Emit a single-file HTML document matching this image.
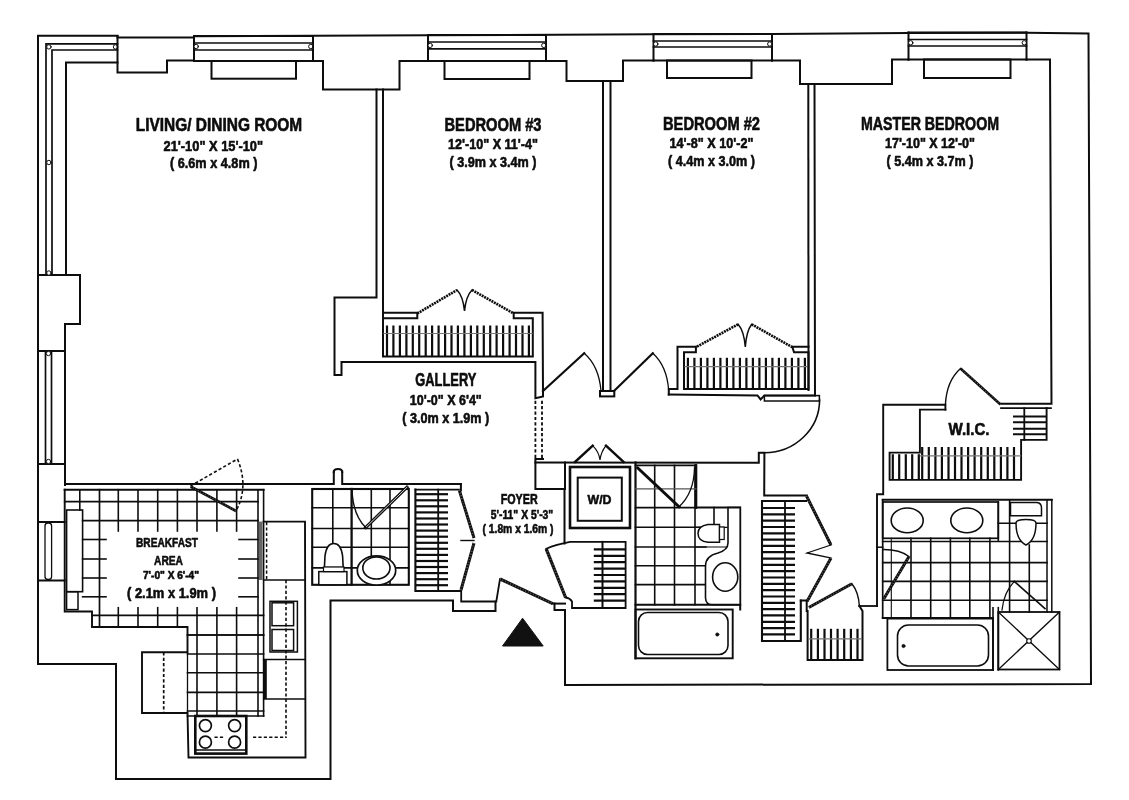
<!DOCTYPE html>
<html lang="en">
<head>
<meta charset="utf-8">
<title>Floor plan</title>
<style>
html,body{margin:0;padding:0;background:#fff;}
body{width:1129px;height:800px;overflow:hidden;font-family:"Liberation Sans",sans-serif;}
svg{display:block;filter:blur(0.4px);}
svg *{vector-effect:none;}
.g polyline,.g line,.g rect,.g path,.g ellipse,.g circle{fill:none;stroke:#0d0d0d;stroke-linecap:square;stroke-linejoin:miter;}
text{font-family:"Liberation Sans",sans-serif;fill:#0d0d0d;stroke:#0d0d0d;stroke-width:0.6px;stroke-linejoin:round;text-anchor:middle;}
</style>
</head>
<body>
<svg width="1129" height="800" viewBox="0 0 1129 800">
<rect x="0" y="0" width="1129" height="800" fill="#ffffff"/>
<g class="g">
<polyline points="38.0,664.0 38.0,35.7 117.5,35.7 117.5,37.5 194.0,37.5 194.0,36.2 313.0,35.8 428.0,35.3 653.5,34.2 772.0,34.0 908.5,33.0 1026.5,32.8 1088.5,33.5 1091.0,684.0 565.0,685.0 565.0,610.0" stroke-width="2.0" />
<polyline points="38.0,664.0 116.0,664.0 116.0,779.0 330.5,779.0 330.5,600.5 453.0,600.5 453.0,611.0 495.5,611.0 495.5,601.7" stroke-width="2.0" />
<polyline points="46.0,275.0 46.0,43.8 117.5,43.8" stroke-width="1.7" />
<polyline points="52.0,275.0 52.0,50.0 117.5,50.0" stroke-width="1.7" />
<polyline points="66.0,275.0 66.0,62.5 117.5,62.5" stroke-width="2.0" />
<circle cx="48.9" cy="46.9" r="2.2" stroke-width="1" style="fill:#fff"/>
<circle cx="115.5" cy="46.9" r="2.2" stroke-width="1" style="fill:#fff"/>
<circle cx="48.9" cy="162.5" r="2.2" stroke-width="1" style="fill:#fff"/>
<polyline points="117.5,36.0 117.5,72.5 167.0,72.5 167.0,60.5 194.0,60.5" stroke-width="2.0" />
<line x1="194.0" y1="36.0" x2="194.0" y2="61.0" stroke-width="2.0" />
<line x1="313.0" y1="36.0" x2="313.0" y2="61.0" stroke-width="2.0" />
<line x1="194.0" y1="36.0" x2="313.0" y2="36.0" stroke-width="2.0" />
<line x1="194.0" y1="43.0" x2="313.0" y2="43.0" stroke-width="1.7" />
<line x1="194.0" y1="50.0" x2="313.0" y2="50.0" stroke-width="1.7" />
<line x1="194.0" y1="61.0" x2="313.0" y2="61.0" stroke-width="2.0" />
<circle cx="196.2" cy="46.5" r="2.2" stroke-width="1" style="fill:#fff"/>
<circle cx="310.8" cy="46.5" r="2.2" stroke-width="1" style="fill:#fff"/>
<rect x="211.5" y="61.0" width="84.5" height="17.7" stroke-width="2.0" />
<polyline points="313.0,61.0 323.0,61.0 323.0,89.5 399.5,89.5 399.5,61.0 428.0,61.0" stroke-width="2.0" />
<line x1="428.0" y1="35.0" x2="428.0" y2="61.0" stroke-width="2.0" />
<line x1="546.0" y1="35.0" x2="546.0" y2="61.0" stroke-width="2.0" />
<line x1="428.0" y1="35.0" x2="546.0" y2="35.0" stroke-width="2.0" />
<line x1="428.0" y1="42.0" x2="546.0" y2="42.0" stroke-width="1.7" />
<line x1="428.0" y1="48.8" x2="546.0" y2="48.8" stroke-width="1.7" />
<line x1="428.0" y1="61.0" x2="546.0" y2="61.0" stroke-width="2.0" />
<circle cx="430.2" cy="45.4" r="2.2" stroke-width="1" style="fill:#fff"/>
<circle cx="543.8" cy="45.4" r="2.2" stroke-width="1" style="fill:#fff"/>
<rect x="444.5" y="61.0" width="85.0" height="18.0" stroke-width="2.0" />
<polyline points="546.0,61.0 566.5,61.0 566.5,81.0 623.0,81.0 623.0,60.5 653.5,60.5" stroke-width="2.0" />
<line x1="653.5" y1="34.0" x2="653.5" y2="60.5" stroke-width="2.0" />
<line x1="772.0" y1="34.0" x2="772.0" y2="60.5" stroke-width="2.0" />
<line x1="653.5" y1="34.0" x2="772.0" y2="34.0" stroke-width="2.0" />
<line x1="653.5" y1="41.0" x2="772.0" y2="41.0" stroke-width="1.7" />
<line x1="653.5" y1="47.0" x2="772.0" y2="47.0" stroke-width="1.7" />
<line x1="653.5" y1="60.5" x2="772.0" y2="60.5" stroke-width="2.0" />
<circle cx="655.7" cy="44.0" r="2.2" stroke-width="1" style="fill:#fff"/>
<circle cx="769.8" cy="44.0" r="2.2" stroke-width="1" style="fill:#fff"/>
<rect x="667.0" y="60.5" width="84.5" height="17.5" stroke-width="2.0" />
<polyline points="772.0,60.5 800.0,60.5 800.0,84.0 892.0,84.0 892.0,59.5 908.5,59.5" stroke-width="2.0" />
<line x1="908.5" y1="32.5" x2="908.5" y2="59.5" stroke-width="2.0" />
<line x1="1026.5" y1="32.5" x2="1026.5" y2="59.5" stroke-width="2.0" />
<line x1="908.5" y1="32.5" x2="1026.5" y2="32.5" stroke-width="2.0" />
<line x1="908.5" y1="39.5" x2="1026.5" y2="39.5" stroke-width="1.7" />
<line x1="908.5" y1="46.0" x2="1026.5" y2="46.0" stroke-width="1.7" />
<line x1="908.5" y1="59.5" x2="1026.5" y2="59.5" stroke-width="2.0" />
<circle cx="910.7" cy="42.8" r="2.2" stroke-width="1" style="fill:#fff"/>
<circle cx="1024.3" cy="42.8" r="2.2" stroke-width="1" style="fill:#fff"/>
<rect x="924.0" y="59.5" width="86.5" height="18.5" stroke-width="2.0" />
<polyline points="1026.5,59.5 1050.0,59.5 1051.5,403.8 1000.0,403.8" stroke-width="2.0" />
<polyline points="38.0,275.0 80.0,275.0 80.0,324.0 65.0,324.0 65.0,351.0 38.0,351.0" stroke-width="2.0" />
<line x1="45.5" y1="351.0" x2="45.5" y2="464.0" stroke-width="1.7" />
<line x1="51.5" y1="351.0" x2="51.5" y2="464.0" stroke-width="1.7" />
<polyline points="38.0,464.0 65.0,464.0" stroke-width="2.0" />
<line x1="65.0" y1="351.0" x2="65.0" y2="485.0" stroke-width="2.0" />
<circle cx="48.5" cy="353.5" r="2.2" stroke-width="1" style="fill:#fff"/>
<circle cx="48.5" cy="461.5" r="2.2" stroke-width="1" style="fill:#fff"/>
<circle cx="48.9" cy="273" r="2.2" stroke-width="1" style="fill:#fff"/>
<line x1="38.0" y1="522.0" x2="64.7" y2="522.0" stroke-width="2.0" />
<line x1="38.0" y1="580.5" x2="64.7" y2="580.5" stroke-width="2.0" />
<rect x="45" y="523" width="6.6" height="56.5" rx="3" stroke-width="1.3"/>
<polyline points="376.5,89.5 376.5,297.5 334.5,297.5 334.5,375.0 341.5,375.0 341.5,362.0 535.4,362.0 535.4,398.3 543.0,396.5 543.0,393.0" stroke-width="2.0" />
<polyline points="383.0,89.5 383.0,318.3" stroke-width="2.0" />
<polyline points="383.0,312.7 417.3,312.7 417.3,318.3 383.0,318.3" stroke-width="2.0" />
<polyline points="383.0,318.3 383.0,356.5 532.8,356.5 532.8,318.3 513.7,318.3 513.7,312.7 542.6,312.7 543.0,393.0" stroke-width="2.0" />
<line x1="417.3" y1="313.5" x2="457.0" y2="290.0" stroke-width="2.6" stroke-dasharray="2 0.8" style="stroke-linecap:butt"/>
<path d="M457,290 Q463,296 464.5,311 Q466,296 472,290" stroke-width="1.5" />
<line x1="472.0" y1="290.0" x2="513.7" y2="313.5" stroke-width="2.6" stroke-dasharray="2 0.8" style="stroke-linecap:butt"/>
<line x1="387.0" y1="325.5" x2="387.0" y2="356.5" stroke-width="2.2" style="stroke-linecap:butt"/>
<line x1="393.4" y1="325.5" x2="393.4" y2="356.5" stroke-width="2.2" style="stroke-linecap:butt"/>
<line x1="399.9" y1="325.5" x2="399.9" y2="356.5" stroke-width="2.2" style="stroke-linecap:butt"/>
<line x1="406.4" y1="325.5" x2="406.4" y2="356.5" stroke-width="2.2" style="stroke-linecap:butt"/>
<line x1="412.8" y1="325.5" x2="412.8" y2="356.5" stroke-width="2.2" style="stroke-linecap:butt"/>
<line x1="419.2" y1="325.5" x2="419.2" y2="356.5" stroke-width="2.2" style="stroke-linecap:butt"/>
<line x1="425.7" y1="325.5" x2="425.7" y2="356.5" stroke-width="2.2" style="stroke-linecap:butt"/>
<line x1="432.1" y1="325.5" x2="432.1" y2="356.5" stroke-width="2.2" style="stroke-linecap:butt"/>
<line x1="438.6" y1="325.5" x2="438.6" y2="356.5" stroke-width="2.2" style="stroke-linecap:butt"/>
<line x1="445.1" y1="325.5" x2="445.1" y2="356.5" stroke-width="2.2" style="stroke-linecap:butt"/>
<line x1="451.5" y1="325.5" x2="451.5" y2="356.5" stroke-width="2.2" style="stroke-linecap:butt"/>
<line x1="457.9" y1="325.5" x2="457.9" y2="356.5" stroke-width="2.2" style="stroke-linecap:butt"/>
<line x1="464.4" y1="325.5" x2="464.4" y2="356.5" stroke-width="2.2" style="stroke-linecap:butt"/>
<line x1="470.9" y1="325.5" x2="470.9" y2="356.5" stroke-width="2.2" style="stroke-linecap:butt"/>
<line x1="477.3" y1="325.5" x2="477.3" y2="356.5" stroke-width="2.2" style="stroke-linecap:butt"/>
<line x1="483.8" y1="325.5" x2="483.8" y2="356.5" stroke-width="2.2" style="stroke-linecap:butt"/>
<line x1="490.2" y1="325.5" x2="490.2" y2="356.5" stroke-width="2.2" style="stroke-linecap:butt"/>
<line x1="496.6" y1="325.5" x2="496.6" y2="356.5" stroke-width="2.2" style="stroke-linecap:butt"/>
<line x1="503.1" y1="325.5" x2="503.1" y2="356.5" stroke-width="2.2" style="stroke-linecap:butt"/>
<line x1="509.6" y1="325.5" x2="509.6" y2="356.5" stroke-width="2.2" style="stroke-linecap:butt"/>
<line x1="516.0" y1="325.5" x2="516.0" y2="356.5" stroke-width="2.2" style="stroke-linecap:butt"/>
<line x1="522.5" y1="325.5" x2="522.5" y2="356.5" stroke-width="2.2" style="stroke-linecap:butt"/>
<line x1="528.9" y1="325.5" x2="528.9" y2="356.5" stroke-width="2.2" style="stroke-linecap:butt"/>
<line x1="384.0" y1="333.5" x2="532.0" y2="333.5" stroke-width="1.2" style="stroke:#777"/>
<line x1="603.0" y1="81.0" x2="603.0" y2="391.0" stroke-width="2.0" />
<line x1="610.5" y1="81.0" x2="610.5" y2="391.0" stroke-width="2.0" />
<rect x="600.0" y="391.0" width="14.3" height="5.4" stroke-width="2.0" />
<line x1="543.0" y1="391.0" x2="584.2" y2="353.2" stroke-width="2.2" />
<path d="M584.2,353.2 Q599,366 601,391" stroke-width="1.3" />
<line x1="614.0" y1="391.0" x2="652.8" y2="353.2" stroke-width="2.2" />
<path d="M652.8,353.2 Q667,366 668.7,390.5" stroke-width="1.3" />
<polyline points="668.8,394.5 668.8,389.0 677.5,389.0 677.5,346.7 695.9,346.7 695.9,352.3 684.0,352.3 684.0,389.0 808.5,389.0 808.5,352.3 794.0,352.3 792.3,346.7 808.5,346.7" stroke-width="2.0" />
<polyline points="668.8,394.5 757.5,395.4 760.6,399.4 764.4,395.6 815.0,395.4" stroke-width="2.0" />
<line x1="738.1" y1="324.3" x2="695.9" y2="347.2" stroke-width="2.6" stroke-dasharray="2 0.8" style="stroke-linecap:butt"/>
<path d="M738.1,324.3 Q744,331 745.3,347 Q746.5,331 751.7,324.3" stroke-width="1.5" />
<line x1="751.7" y1="324.3" x2="792.3" y2="347.2" stroke-width="2.6" stroke-dasharray="2 0.8" style="stroke-linecap:butt"/>
<line x1="687.9" y1="357.8" x2="687.9" y2="389.0" stroke-width="2.2" style="stroke-linecap:butt"/>
<line x1="694.4" y1="357.8" x2="694.4" y2="389.0" stroke-width="2.2" style="stroke-linecap:butt"/>
<line x1="700.9" y1="357.8" x2="700.9" y2="389.0" stroke-width="2.2" style="stroke-linecap:butt"/>
<line x1="707.4" y1="357.8" x2="707.4" y2="389.0" stroke-width="2.2" style="stroke-linecap:butt"/>
<line x1="713.9" y1="357.8" x2="713.9" y2="389.0" stroke-width="2.2" style="stroke-linecap:butt"/>
<line x1="720.4" y1="357.8" x2="720.4" y2="389.0" stroke-width="2.2" style="stroke-linecap:butt"/>
<line x1="726.9" y1="357.8" x2="726.9" y2="389.0" stroke-width="2.2" style="stroke-linecap:butt"/>
<line x1="733.4" y1="357.8" x2="733.4" y2="389.0" stroke-width="2.2" style="stroke-linecap:butt"/>
<line x1="739.9" y1="357.8" x2="739.9" y2="389.0" stroke-width="2.2" style="stroke-linecap:butt"/>
<line x1="746.4" y1="357.8" x2="746.4" y2="389.0" stroke-width="2.2" style="stroke-linecap:butt"/>
<line x1="752.9" y1="357.8" x2="752.9" y2="389.0" stroke-width="2.2" style="stroke-linecap:butt"/>
<line x1="759.4" y1="357.8" x2="759.4" y2="389.0" stroke-width="2.2" style="stroke-linecap:butt"/>
<line x1="765.9" y1="357.8" x2="765.9" y2="389.0" stroke-width="2.2" style="stroke-linecap:butt"/>
<line x1="772.4" y1="357.8" x2="772.4" y2="389.0" stroke-width="2.2" style="stroke-linecap:butt"/>
<line x1="778.9" y1="357.8" x2="778.9" y2="389.0" stroke-width="2.2" style="stroke-linecap:butt"/>
<line x1="785.4" y1="357.8" x2="785.4" y2="389.0" stroke-width="2.2" style="stroke-linecap:butt"/>
<line x1="791.9" y1="357.8" x2="791.9" y2="389.0" stroke-width="2.2" style="stroke-linecap:butt"/>
<line x1="798.4" y1="357.8" x2="798.4" y2="389.0" stroke-width="2.2" style="stroke-linecap:butt"/>
<line x1="804.9" y1="357.8" x2="804.9" y2="389.0" stroke-width="2.2" style="stroke-linecap:butt"/>
<line x1="685.0" y1="366.6" x2="807.5" y2="366.6" stroke-width="1.2" style="stroke:#777"/>
<line x1="808.3" y1="84.0" x2="808.5" y2="390.0" stroke-width="2.0" />
<line x1="814.5" y1="84.0" x2="815.0" y2="395.2" stroke-width="2.0" />
<line x1="535.4" y1="400.7" x2="535.4" y2="459.0" stroke-width="1.8" stroke-dasharray="3.2 2.2" style="stroke-linecap:butt"/>
<line x1="542.0" y1="400.7" x2="542.0" y2="459.0" stroke-width="1.8" stroke-dasharray="3.2 2.2" style="stroke-linecap:butt"/>
<polyline points="543.0,459.0 535.4,459.0 535.4,489.0 564.5,489.0 564.5,543.5" stroke-width="2.0" />
<polyline points="535.4,462.5 758.8,462.8 758.8,452.8 764.4,452.8 764.2,495.4 806.9,495.4" stroke-width="2.0" />
<rect x="764.4" y="395.6" width="55.0" height="5.4" stroke-width="1.5" />
<path d="M819.6,400 A55.5,53 0 0 1 764.4,452.8" stroke-width="1.6" />
<line x1="575.0" y1="462.0" x2="592.7" y2="445.7" stroke-width="2.4" />
<line x1="606.0" y1="445.7" x2="623.7" y2="462.0" stroke-width="2.4" />
<path d="M592.7,445.7 Q599,452 600,460 Q601,452 606,445.7" stroke-width="1.2" />
<rect x="570.0" y="467.0" width="60.0" height="61.0" stroke-width="2.6" />
<rect x="577.7" y="477.6" width="44.1" height="43.2" stroke-width="2.0" />
<text x="599.5" y="503.5" font-size="13.5" font-weight="bold" textLength="24.0" lengthAdjust="spacingAndGlyphs" >W/D</text>
<line x1="565.0" y1="462.5" x2="565.0" y2="489.0" stroke-width="2.0" />
<polyline points="65.0,484.0 333.8,484.0 333.8,471.5" stroke-width="2.0" />
<polyline points="342.2,471.5 342.2,484.0 460.9,484.0" stroke-width="2.0" />
<path d="M333.8,472 Q333.8,469 338,469 Q342.2,469 342.2,472" stroke-width="2.0" />
<polyline points="64.7,489.7 263.6,489.7" stroke-width="2.0" />
<polyline points="64.7,489.7 64.7,611.5 92.0,611.5 92.0,627.0 187.5,627.0 187.5,652.3 142.0,652.3 142.0,713.0 187.5,713.0 188.5,757.5 305.5,757.5 305.0,521.6 263.6,521.6" stroke-width="1.9" />
<line x1="258.0" y1="489.7" x2="258.0" y2="716.0" stroke-width="1.6" />
<line x1="263.6" y1="489.7" x2="263.6" y2="716.0" stroke-width="1.6" />
<line x1="187.5" y1="716.0" x2="263.6" y2="716.0" stroke-width="1.6" />
<line x1="187.5" y1="652.3" x2="187.5" y2="713.0" stroke-width="1.3" />
<line x1="163.7" y1="652.3" x2="163.7" y2="713.0" stroke-width="1.7" stroke-dasharray="3.2 2.2" style="stroke-linecap:butt"/>
<line x1="79.8" y1="489.7" x2="79.8" y2="510.0" stroke-width="1.6" />
<line x1="99.5" y1="489.7" x2="99.5" y2="627.0" stroke-width="1.7" />
<line x1="118.3" y1="489.7" x2="118.3" y2="531.0" stroke-width="1.6" />
<line x1="118.3" y1="607.7" x2="118.3" y2="627.0" stroke-width="1.6" />
<line x1="138.0" y1="489.7" x2="138.0" y2="531.0" stroke-width="1.6" />
<line x1="138.0" y1="607.7" x2="138.0" y2="627.0" stroke-width="1.6" />
<line x1="157.7" y1="489.7" x2="157.7" y2="531.0" stroke-width="1.6" />
<line x1="157.7" y1="607.7" x2="157.7" y2="627.0" stroke-width="1.6" />
<line x1="177.4" y1="489.7" x2="177.4" y2="531.0" stroke-width="1.6" />
<line x1="177.4" y1="607.7" x2="177.4" y2="627.0" stroke-width="1.6" />
<line x1="197.0" y1="489.7" x2="197.0" y2="531.0" stroke-width="1.6" />
<line x1="197.0" y1="607.7" x2="197.0" y2="716.0" stroke-width="1.6" />
<line x1="216.9" y1="489.7" x2="216.9" y2="531.0" stroke-width="1.6" />
<line x1="216.9" y1="607.7" x2="216.9" y2="716.0" stroke-width="1.6" />
<line x1="236.6" y1="489.7" x2="236.6" y2="531.0" stroke-width="1.6" />
<line x1="236.6" y1="607.7" x2="236.6" y2="716.0" stroke-width="1.6" />
<line x1="64.7" y1="501.6" x2="258.0" y2="501.6" stroke-width="1.6" />
<line x1="82.6" y1="520.6" x2="258.0" y2="520.6" stroke-width="1.6" />
<line x1="82.6" y1="539.5" x2="106.0" y2="539.5" stroke-width="1.6" />
<line x1="239.0" y1="539.5" x2="258.0" y2="539.5" stroke-width="1.6" />
<line x1="82.6" y1="559.0" x2="106.0" y2="559.0" stroke-width="1.6" />
<line x1="239.0" y1="559.0" x2="258.0" y2="559.0" stroke-width="1.6" />
<line x1="82.6" y1="578.0" x2="106.0" y2="578.0" stroke-width="1.6" />
<line x1="239.0" y1="578.0" x2="258.0" y2="578.0" stroke-width="1.6" />
<line x1="82.6" y1="596.8" x2="106.0" y2="596.8" stroke-width="1.6" />
<line x1="239.0" y1="596.8" x2="258.0" y2="596.8" stroke-width="1.6" />
<line x1="92.0" y1="615.4" x2="263.6" y2="615.4" stroke-width="1.6" />
<line x1="187.5" y1="635.0" x2="263.6" y2="635.0" stroke-width="1.6" />
<line x1="187.5" y1="654.0" x2="263.6" y2="654.0" stroke-width="1.6" />
<line x1="187.5" y1="672.7" x2="263.6" y2="672.7" stroke-width="1.6" />
<line x1="187.5" y1="692.4" x2="263.6" y2="692.4" stroke-width="1.6" />
<line x1="187.5" y1="711.0" x2="263.6" y2="711.0" stroke-width="1.6" />
<line x1="187.5" y1="635.0" x2="263.6" y2="635.0" stroke-width="1.6" />
<rect x="66.6" y="510.0" width="16.0" height="81.7" stroke-width="1.6" />
<rect x="66.6" y="591.7" width="11.4" height="17.9" stroke-width="1.5" />
<line x1="190.5" y1="486.0" x2="237.5" y2="459.0" stroke-width="1.6" stroke-dasharray="3.2 2.2" style="stroke-linecap:butt"/>
<path d="M237.5,459 Q249,487 236,511" stroke-width="1.6" stroke-dasharray="3.2 2.2" style="stroke-linecap:butt"/>
<line x1="190.5" y1="486.5" x2="236.0" y2="511.0" stroke-width="2.6" style="stroke-linecap:butt"/>
<line x1="190.5" y1="486.5" x2="236.0" y2="511.0" stroke-width="1.4000000000000001" stroke-dasharray="0.7 2.1" style="stroke:#fff;stroke-opacity:0.4;stroke-linecap:butt"/>
<line x1="263.6" y1="580.0" x2="305.0" y2="580.0" stroke-width="1.6" />
<line x1="266.6" y1="522.0" x2="266.6" y2="580.0" stroke-width="1.5" stroke-dasharray="3.2 2.2" style="stroke-linecap:butt"/>
<line x1="260.8" y1="521.6" x2="260.8" y2="580.0" stroke-width="3.6" style="stroke:#666;stroke-linecap:butt"/>
<line x1="286.0" y1="580.0" x2="286.0" y2="738.0" stroke-width="1.6" stroke-dasharray="3.2 2.2" style="stroke-linecap:butt"/>
<rect x="270.0" y="601.3" width="27.4" height="50.7" stroke-width="1.5" />
<rect x="272.0" y="602.8" width="21.6" height="22.9" stroke-width="1.5" />
<rect x="272.0" y="629.5" width="21.6" height="21.0" stroke-width="1.5" />
<line x1="263.6" y1="659.5" x2="305.0" y2="659.5" stroke-width="1.5" />
<line x1="263.6" y1="699.0" x2="305.0" y2="699.0" stroke-width="1.5" />
<line x1="265.2" y1="659.5" x2="265.2" y2="699.0" stroke-width="3.2" style="stroke-linecap:butt"/>
<rect x="195.3" y="716.0" width="51.0" height="37.6" stroke-width="2.6" />
<line x1="196.0" y1="750.0" x2="246.0" y2="750.0" stroke-width="1.4" />
<circle cx="205.4" cy="725.6" r="6" stroke-width="1.7"/>
<circle cx="205.4" cy="742.2" r="6" stroke-width="1.7"/>
<circle cx="234.6" cy="725.6" r="6" stroke-width="1.7"/>
<circle cx="234.6" cy="742.2" r="6" stroke-width="1.7"/>
<line x1="214.5" y1="737.3" x2="225.0" y2="737.3" stroke-width="1.6" stroke-dasharray="3.2 2.2" style="stroke-linecap:butt"/>
<line x1="253.0" y1="737.3" x2="286.0" y2="737.3" stroke-width="1.6" stroke-dasharray="3.2 2.2" style="stroke-linecap:butt"/>
<rect x="312.2" y="489.0" width="96.6" height="95.8" stroke-width="2.1" />
<line x1="332.8" y1="489.0" x2="332.8" y2="584.8" stroke-width="1.6" />
<line x1="371.3" y1="489.0" x2="371.3" y2="584.8" stroke-width="1.6" />
<line x1="390.0" y1="489.0" x2="390.0" y2="584.8" stroke-width="1.6" />
<line x1="312.2" y1="507.8" x2="408.8" y2="507.8" stroke-width="1.6" />
<line x1="312.2" y1="528.5" x2="408.8" y2="528.5" stroke-width="1.6" />
<line x1="312.2" y1="547.2" x2="408.8" y2="547.2" stroke-width="1.6" />
<line x1="312.2" y1="567.9" x2="408.8" y2="567.9" stroke-width="1.6" />
<line x1="351.6" y1="489.0" x2="351.6" y2="584.8" stroke-width="2.3" />
<line x1="407.0" y1="487.2" x2="365.7" y2="527.5" stroke-width="3.2" />
<line x1="407.0" y1="487.2" x2="365.7" y2="527.5" stroke-width="0.8" style="stroke:#fff"/>
<path d="M352,490 Q353,515 365.7,527.5" stroke-width="1.4" />
<rect x="318.8" y="571.6" width="28.1" height="13.2" stroke-width="1.5" style="fill:#fff"/>
<path d="M324.4,567.5 L325,556 Q326.5,543.5 333.8,543.5 Q341,543.5 342.6,556 L343.2,567.5 Z" stroke-width="1.6" style="fill:#fff"/>
<rect x="323.5" y="567" width="20.5" height="4.6" stroke-width="1.2" style="fill:#fff"/>
<ellipse cx="376.5" cy="570.5" rx="19.2" ry="14.6" stroke-width="1.7" style="fill:#fff"/>
<ellipse cx="376.4" cy="568" rx="13.6" ry="11" stroke-width="1.6" style="fill:#fff"/>
<polyline points="415.4,489.6 415.4,591.0 456.9,591.0" stroke-width="2.1" />
<line x1="415.4" y1="489.6" x2="459.0" y2="489.6" stroke-width="1.7" />
<line x1="438.2" y1="489.6" x2="438.2" y2="591.0" stroke-width="1.8" />
<line x1="416.0" y1="494.2" x2="448.0" y2="494.2" stroke-width="2.2" style="stroke-linecap:butt"/>
<line x1="416.0" y1="500.3" x2="448.0" y2="500.3" stroke-width="2.2" style="stroke-linecap:butt"/>
<line x1="416.0" y1="506.3" x2="448.0" y2="506.3" stroke-width="2.2" style="stroke-linecap:butt"/>
<line x1="416.0" y1="512.4" x2="448.0" y2="512.4" stroke-width="2.2" style="stroke-linecap:butt"/>
<line x1="416.0" y1="518.5" x2="448.0" y2="518.5" stroke-width="2.2" style="stroke-linecap:butt"/>
<line x1="416.0" y1="524.5" x2="448.0" y2="524.5" stroke-width="2.2" style="stroke-linecap:butt"/>
<line x1="416.0" y1="530.6" x2="448.0" y2="530.6" stroke-width="2.2" style="stroke-linecap:butt"/>
<line x1="416.0" y1="536.7" x2="448.0" y2="536.7" stroke-width="2.2" style="stroke-linecap:butt"/>
<line x1="416.0" y1="542.8" x2="448.0" y2="542.8" stroke-width="2.2" style="stroke-linecap:butt"/>
<line x1="416.0" y1="548.8" x2="448.0" y2="548.8" stroke-width="2.2" style="stroke-linecap:butt"/>
<line x1="416.0" y1="554.9" x2="448.0" y2="554.9" stroke-width="2.2" style="stroke-linecap:butt"/>
<line x1="416.0" y1="561.0" x2="448.0" y2="561.0" stroke-width="2.2" style="stroke-linecap:butt"/>
<line x1="416.0" y1="567.0" x2="448.0" y2="567.0" stroke-width="2.2" style="stroke-linecap:butt"/>
<line x1="416.0" y1="573.1" x2="448.0" y2="573.1" stroke-width="2.2" style="stroke-linecap:butt"/>
<line x1="416.0" y1="579.2" x2="448.0" y2="579.2" stroke-width="2.2" style="stroke-linecap:butt"/>
<line x1="416.0" y1="585.2" x2="448.0" y2="585.2" stroke-width="2.2" style="stroke-linecap:butt"/>
<polyline points="460.9,484.0 460.9,490.3" stroke-width="2.0" />
<line x1="459.3" y1="490.2" x2="474.0" y2="538.0" stroke-width="3.0" style="stroke-linecap:butt"/>
<line x1="459.3" y1="490.2" x2="474.0" y2="538.0" stroke-width="1.8" stroke-dasharray="0.7 2.1" style="stroke:#fff;stroke-opacity:0.4;stroke-linecap:butt"/>
<line x1="474.0" y1="543.0" x2="461.0" y2="590.0" stroke-width="3.0" style="stroke-linecap:butt"/>
<line x1="474.0" y1="543.0" x2="461.0" y2="590.0" stroke-width="1.8" stroke-dasharray="0.7 2.1" style="stroke:#fff;stroke-opacity:0.4;stroke-linecap:butt"/>
<line x1="461.0" y1="540.5" x2="474.0" y2="540.5" stroke-width="1.4" />
<polyline points="456.0,591.0 461.2,591.0 461.2,601.5 496.3,601.5 500.0,579.0" stroke-width="1.8" />
<line x1="500.0" y1="579.0" x2="552.7" y2="603.6" stroke-width="3.2" style="stroke-linecap:butt"/>
<line x1="500.0" y1="579.0" x2="552.7" y2="603.6" stroke-width="2.0" stroke-dasharray="0.7 2.1" style="stroke:#fff;stroke-opacity:0.4;stroke-linecap:butt"/>
<polyline points="552.7,603.6 565.0,603.6" stroke-width="2.0" />
<polyline points="554.5,603.6 554.5,610.0 565.0,610.0" stroke-width="2.0" />
<polygon points="522.6,618.2 502.5,646 543.2,646" style="fill:#111;stroke:#111" stroke-width="1"/>
<line x1="546.2" y1="548.8" x2="565.6" y2="597.5" stroke-width="3.2" style="stroke-linecap:butt"/>
<line x1="546.2" y1="548.8" x2="565.6" y2="597.5" stroke-width="2.0" stroke-dasharray="0.7 2.1" style="stroke:#fff;stroke-opacity:0.4;stroke-linecap:butt"/>
<path d="M546.25,548.75 Q556,544.5 570,541.9 L625.6,541.9 L625.6,608 L572,608 L572,601.5 Q570,598 565.6,597.5" stroke-width="1.8" />
<line x1="602.5" y1="541.9" x2="602.5" y2="608.0" stroke-width="2.0" />
<line x1="593.8" y1="549.4" x2="625.6" y2="549.4" stroke-width="2.2" style="stroke-linecap:butt"/>
<line x1="593.8" y1="555.8" x2="625.6" y2="555.8" stroke-width="2.2" style="stroke-linecap:butt"/>
<line x1="593.8" y1="562.2" x2="625.6" y2="562.2" stroke-width="2.2" style="stroke-linecap:butt"/>
<line x1="593.8" y1="568.6" x2="625.6" y2="568.6" stroke-width="2.2" style="stroke-linecap:butt"/>
<line x1="593.8" y1="575.0" x2="625.6" y2="575.0" stroke-width="2.2" style="stroke-linecap:butt"/>
<line x1="593.8" y1="581.4" x2="625.6" y2="581.4" stroke-width="2.2" style="stroke-linecap:butt"/>
<line x1="593.8" y1="587.8" x2="625.6" y2="587.8" stroke-width="2.2" style="stroke-linecap:butt"/>
<line x1="593.8" y1="594.2" x2="625.6" y2="594.2" stroke-width="2.2" style="stroke-linecap:butt"/>
<line x1="593.8" y1="600.6" x2="625.6" y2="600.6" stroke-width="2.2" style="stroke-linecap:butt"/>
<line x1="635.5" y1="462.5" x2="635.5" y2="658.3" stroke-width="2.2" />
<line x1="635.5" y1="465.4" x2="696.0" y2="465.4" stroke-width="1.6" />
<line x1="696.0" y1="465.4" x2="696.0" y2="507.6" stroke-width="2.6" />
<polyline points="696.0,507.6 740.2,507.6 740.2,609.5" stroke-width="2.0" />
<line x1="654.7" y1="465.4" x2="654.7" y2="604.8" stroke-width="1.6" />
<line x1="674.5" y1="465.4" x2="674.5" y2="604.8" stroke-width="1.6" />
<line x1="695.0" y1="465.4" x2="695.0" y2="604.8" stroke-width="1.6" />
<line x1="635.5" y1="488.8" x2="696.0" y2="488.8" stroke-width="1.2" style="stroke:#555"/>
<line x1="635.5" y1="507.6" x2="696.0" y2="507.6" stroke-width="1.6" />
<line x1="635.5" y1="527.3" x2="706.0" y2="527.3" stroke-width="1.6" />
<line x1="635.5" y1="547.0" x2="706.0" y2="547.0" stroke-width="1.6" />
<line x1="635.5" y1="565.8" x2="706.0" y2="565.8" stroke-width="1.6" />
<line x1="635.5" y1="584.6" x2="706.0" y2="584.6" stroke-width="1.6" />
<line x1="714.0" y1="507.6" x2="714.0" y2="528.0" stroke-width="1.6" />
<line x1="696.0" y1="527.3" x2="727.0" y2="527.3" stroke-width="1.2" />
<line x1="696.0" y1="547.0" x2="727.0" y2="547.0" stroke-width="1.2" />
<line x1="637.8" y1="468.0" x2="679.0" y2="506.7" stroke-width="3.0" />
<path d="M694.5,468 Q694,493 679,506.7" stroke-width="1.3" />
<path d="M728,507.6 L728,543 Q728,550 718,553 Q705.5,556 705.5,566 L705.5,598 Q706,604.8 712,604.8 L740.2,604.8 L740.2,507.6 Z" stroke-width="1.6" style="fill:#fff"/>
<ellipse cx="725.2" cy="577" rx="12.6" ry="14.2" stroke-width="1.6" style="fill:#fff"/>
<path d="M719.5,524.5 L708,524.5 Q698,526 698,533.4 Q698,541 708,542.3 L719.5,542.3 Z" stroke-width="1.5" style="fill:#fff"/>
<rect x="719.5" y="527" width="4.7" height="12.5" stroke-width="1.2" style="fill:#fff"/>
<line x1="635.5" y1="604.8" x2="740.2" y2="604.8" stroke-width="2.0" />
<rect x="635.5" y="609.5" width="97.2" height="48.8" stroke-width="1.9" />
<rect x="638.5" y="612.5" width="89.5" height="42" rx="9" ry="9" stroke-width="1.6"/>
<circle cx="717.3" cy="634.5" r="1.7" style="fill:#111" stroke-width="0.5"/>
<polyline points="762.0,501.0 762.0,641.0 800.8,641.0 800.8,600.5" stroke-width="2.1" />
<line x1="762.0" y1="501.0" x2="806.0" y2="501.0" stroke-width="2.0" />
<line x1="785.0" y1="501.0" x2="785.0" y2="641.0" stroke-width="1.8" />
<line x1="762.0" y1="508.0" x2="795.0" y2="508.0" stroke-width="2.2" style="stroke-linecap:butt"/>
<line x1="762.0" y1="514.3" x2="795.0" y2="514.3" stroke-width="2.2" style="stroke-linecap:butt"/>
<line x1="762.0" y1="520.6" x2="795.0" y2="520.6" stroke-width="2.2" style="stroke-linecap:butt"/>
<line x1="762.0" y1="527.0" x2="795.0" y2="527.0" stroke-width="2.2" style="stroke-linecap:butt"/>
<line x1="762.0" y1="533.3" x2="795.0" y2="533.3" stroke-width="2.2" style="stroke-linecap:butt"/>
<line x1="762.0" y1="539.6" x2="795.0" y2="539.6" stroke-width="2.2" style="stroke-linecap:butt"/>
<line x1="762.0" y1="545.9" x2="795.0" y2="545.9" stroke-width="2.2" style="stroke-linecap:butt"/>
<line x1="762.0" y1="552.2" x2="795.0" y2="552.2" stroke-width="2.2" style="stroke-linecap:butt"/>
<line x1="762.0" y1="558.6" x2="795.0" y2="558.6" stroke-width="2.2" style="stroke-linecap:butt"/>
<line x1="762.0" y1="564.9" x2="795.0" y2="564.9" stroke-width="2.2" style="stroke-linecap:butt"/>
<line x1="762.0" y1="571.2" x2="795.0" y2="571.2" stroke-width="2.2" style="stroke-linecap:butt"/>
<line x1="762.0" y1="577.5" x2="795.0" y2="577.5" stroke-width="2.2" style="stroke-linecap:butt"/>
<line x1="762.0" y1="583.8" x2="795.0" y2="583.8" stroke-width="2.2" style="stroke-linecap:butt"/>
<line x1="762.0" y1="590.2" x2="795.0" y2="590.2" stroke-width="2.2" style="stroke-linecap:butt"/>
<line x1="762.0" y1="596.5" x2="795.0" y2="596.5" stroke-width="2.2" style="stroke-linecap:butt"/>
<line x1="762.0" y1="602.8" x2="795.0" y2="602.8" stroke-width="2.2" style="stroke-linecap:butt"/>
<line x1="762.0" y1="609.1" x2="795.0" y2="609.1" stroke-width="2.2" style="stroke-linecap:butt"/>
<line x1="762.0" y1="615.4" x2="795.0" y2="615.4" stroke-width="2.2" style="stroke-linecap:butt"/>
<line x1="762.0" y1="621.8" x2="795.0" y2="621.8" stroke-width="2.2" style="stroke-linecap:butt"/>
<line x1="762.0" y1="628.1" x2="795.0" y2="628.1" stroke-width="2.2" style="stroke-linecap:butt"/>
<line x1="762.0" y1="634.4" x2="795.0" y2="634.4" stroke-width="2.2" style="stroke-linecap:butt"/>
<line x1="806.5" y1="496.0" x2="831.0" y2="545.0" stroke-width="3.0" style="stroke-linecap:butt"/>
<line x1="806.5" y1="496.0" x2="831.0" y2="545.0" stroke-width="1.8" stroke-dasharray="0.7 2.1" style="stroke:#fff;stroke-opacity:0.4;stroke-linecap:butt"/>
<polyline points="831.0,545.0 807.0,553.0 831.0,558.0" stroke-width="1.3" />
<line x1="831.0" y1="558.0" x2="807.0" y2="601.5" stroke-width="3.0" style="stroke-linecap:butt"/>
<line x1="831.0" y1="558.0" x2="807.0" y2="601.5" stroke-width="1.8" stroke-dasharray="0.7 2.1" style="stroke:#fff;stroke-opacity:0.4;stroke-linecap:butt"/>
<polyline points="800.8,600.5 806.7,600.5 806.7,611.0 807.6,611.0 807.6,660.0 862.5,660.0 862.5,611.0 859.4,606.0" stroke-width="2.0" />
<line x1="808.8" y1="607.5" x2="851.9" y2="583.8" stroke-width="3.0" style="stroke-linecap:butt"/>
<line x1="808.8" y1="607.5" x2="851.9" y2="583.8" stroke-width="1.8" stroke-dasharray="0.7 2.1" style="stroke:#fff;stroke-opacity:0.4;stroke-linecap:butt"/>
<path d="M851.9,583.75 Q858.5,592 859.4,606" stroke-width="1.4" />
<line x1="859.4" y1="606.0" x2="877.0" y2="606.0" stroke-width="1.8" />
<line x1="811.2" y1="628.8" x2="811.2" y2="660.0" stroke-width="2.2" style="stroke-linecap:butt"/>
<line x1="817.9" y1="628.8" x2="817.9" y2="660.0" stroke-width="2.2" style="stroke-linecap:butt"/>
<line x1="824.5" y1="628.8" x2="824.5" y2="660.0" stroke-width="2.2" style="stroke-linecap:butt"/>
<line x1="831.0" y1="628.8" x2="831.0" y2="660.0" stroke-width="2.2" style="stroke-linecap:butt"/>
<line x1="837.6" y1="628.8" x2="837.6" y2="660.0" stroke-width="2.2" style="stroke-linecap:butt"/>
<line x1="844.2" y1="628.8" x2="844.2" y2="660.0" stroke-width="2.2" style="stroke-linecap:butt"/>
<line x1="850.9" y1="628.8" x2="850.9" y2="660.0" stroke-width="2.2" style="stroke-linecap:butt"/>
<line x1="857.5" y1="628.8" x2="857.5" y2="660.0" stroke-width="2.2" style="stroke-linecap:butt"/>
<line x1="808.5" y1="638.8" x2="861.5" y2="638.8" stroke-width="1.2" style="stroke:#777"/>
<line x1="960.5" y1="368.5" x2="1000.5" y2="404.5" stroke-width="2.6" style="stroke-linecap:butt"/>
<line x1="960.5" y1="368.5" x2="1000.5" y2="404.5" stroke-width="1.4000000000000001" stroke-dasharray="0.7 2.1" style="stroke:#fff;stroke-opacity:0.4;stroke-linecap:butt"/>
<path d="M960.5,368.5 Q946.5,381 945.4,404.8" stroke-width="1.4" />
<polyline points="945.4,409.6 945.4,404.8 883.2,404.8 883.2,494.3 877.0,494.3 877.0,606.0" stroke-width="1.9" />
<polyline points="945.4,409.6 919.9,409.6 919.9,452.6 889.6,452.6 889.6,479.9 1021.1,479.9 1021.1,439.9 1046.6,439.9 1046.6,408.0" stroke-width="1.9" />
<line x1="1001.0" y1="408.2" x2="1051.0" y2="408.2" stroke-width="1.7" />
<line x1="1024.3" y1="408.2" x2="1024.3" y2="439.9" stroke-width="1.8" />
<line x1="1013.0" y1="416.5" x2="1046.6" y2="416.5" stroke-width="1.9" style="stroke-linecap:butt"/>
<line x1="1013.0" y1="422.3" x2="1046.6" y2="422.3" stroke-width="1.9" style="stroke-linecap:butt"/>
<line x1="1013.0" y1="428.7" x2="1046.6" y2="428.7" stroke-width="1.9" style="stroke-linecap:butt"/>
<line x1="1013.0" y1="434.3" x2="1046.6" y2="434.3" stroke-width="1.9" style="stroke-linecap:butt"/>
<line x1="892.8" y1="454.2" x2="892.8" y2="479.9" stroke-width="2.2" style="stroke-linecap:butt"/>
<line x1="899.2" y1="454.2" x2="899.2" y2="479.9" stroke-width="2.2" style="stroke-linecap:butt"/>
<line x1="905.8" y1="454.2" x2="905.8" y2="479.9" stroke-width="2.2" style="stroke-linecap:butt"/>
<line x1="912.2" y1="454.2" x2="912.2" y2="479.9" stroke-width="2.2" style="stroke-linecap:butt"/>
<line x1="918.8" y1="454.2" x2="918.8" y2="479.9" stroke-width="2.2" style="stroke-linecap:butt"/>
<line x1="922.2" y1="447.0" x2="922.2" y2="479.9" stroke-width="2.2" style="stroke-linecap:butt"/>
<line x1="928.8" y1="447.0" x2="928.8" y2="479.9" stroke-width="2.2" style="stroke-linecap:butt"/>
<line x1="935.4" y1="447.0" x2="935.4" y2="479.9" stroke-width="2.2" style="stroke-linecap:butt"/>
<line x1="941.9" y1="447.0" x2="941.9" y2="479.9" stroke-width="2.2" style="stroke-linecap:butt"/>
<line x1="948.5" y1="447.0" x2="948.5" y2="479.9" stroke-width="2.2" style="stroke-linecap:butt"/>
<line x1="955.0" y1="447.0" x2="955.0" y2="479.9" stroke-width="2.2" style="stroke-linecap:butt"/>
<line x1="961.5" y1="447.0" x2="961.5" y2="479.9" stroke-width="2.2" style="stroke-linecap:butt"/>
<line x1="968.1" y1="447.0" x2="968.1" y2="479.9" stroke-width="2.2" style="stroke-linecap:butt"/>
<line x1="974.6" y1="447.0" x2="974.6" y2="479.9" stroke-width="2.2" style="stroke-linecap:butt"/>
<line x1="981.2" y1="447.0" x2="981.2" y2="479.9" stroke-width="2.2" style="stroke-linecap:butt"/>
<line x1="987.8" y1="447.0" x2="987.8" y2="479.9" stroke-width="2.2" style="stroke-linecap:butt"/>
<line x1="994.3" y1="447.0" x2="994.3" y2="479.9" stroke-width="2.2" style="stroke-linecap:butt"/>
<line x1="1000.9" y1="447.0" x2="1000.9" y2="479.9" stroke-width="2.2" style="stroke-linecap:butt"/>
<line x1="1007.4" y1="447.0" x2="1007.4" y2="479.9" stroke-width="2.2" style="stroke-linecap:butt"/>
<line x1="1014.0" y1="447.0" x2="1014.0" y2="479.9" stroke-width="2.2" style="stroke-linecap:butt"/>
<line x1="920.5" y1="455.8" x2="1020.5" y2="455.8" stroke-width="1.2" style="stroke:#777"/>
<polyline points="882.7,499.8 1051.8,499.8" stroke-width="2.0" />
<line x1="882.7" y1="499.8" x2="882.7" y2="618.0" stroke-width="1.7" />
<line x1="1047.0" y1="499.8" x2="1047.0" y2="612.0" stroke-width="1.5" />
<line x1="1051.8" y1="499.8" x2="1051.8" y2="612.0" stroke-width="1.5" />
<rect x="882.7" y="502.0" width="115.6" height="36.3" stroke-width="1.7" />
<ellipse cx="907.2" cy="520.4" rx="16.0" ry="12.4" stroke-width="1.6" />
<ellipse cx="966.8" cy="520.4" rx="16.0" ry="12.4" stroke-width="1.6" />
<line x1="911.0" y1="538.3" x2="911.0" y2="618.0" stroke-width="1.6" />
<line x1="930.7" y1="538.3" x2="930.7" y2="618.0" stroke-width="1.6" />
<line x1="950.4" y1="538.3" x2="950.4" y2="618.0" stroke-width="1.6" />
<line x1="969.8" y1="538.3" x2="969.8" y2="618.0" stroke-width="1.6" />
<line x1="989.9" y1="538.3" x2="989.9" y2="618.0" stroke-width="1.6" />
<line x1="891.3" y1="538.3" x2="891.3" y2="618.0" stroke-width="1.1" />
<line x1="1009.6" y1="499.8" x2="1009.6" y2="612.0" stroke-width="1.6" />
<line x1="1029.3" y1="545.0" x2="1029.3" y2="612.0" stroke-width="1.6" />
<line x1="882.7" y1="541.5" x2="1047.0" y2="541.5" stroke-width="1.6" />
<line x1="882.7" y1="562.6" x2="1047.0" y2="562.6" stroke-width="1.6" />
<line x1="882.7" y1="581.4" x2="1047.0" y2="581.4" stroke-width="1.6" />
<line x1="882.7" y1="600.2" x2="1047.0" y2="600.2" stroke-width="1.6" />
<line x1="998.3" y1="523.2" x2="1047.0" y2="523.2" stroke-width="1.6" />
<line x1="998.3" y1="502.0" x2="998.3" y2="541.0" stroke-width="1.6" />
<line x1="882.7" y1="618.0" x2="993.0" y2="618.0" stroke-width="1.8" />
<path d="M1010.5,502.5 L1037,502.5 Q1041.5,503 1041.5,508 L1041.5,515.7 L1010.5,515.7 Z" stroke-width="1.5" style="fill:#fff"/>
<path d="M1016,523 Q1016,519.5 1026,519.5 Q1036,519.5 1036,523 Q1036,540 1026,545 Q1016,540 1016,523 Z" stroke-width="1.5" style="fill:#fff"/>
<line x1="877.0" y1="547.2" x2="882.7" y2="547.2" stroke-width="1.5" />
<line x1="909.0" y1="556.6" x2="883.7" y2="598.9" stroke-width="3.0" style="stroke-linecap:butt"/>
<line x1="909.0" y1="556.6" x2="883.7" y2="598.9" stroke-width="1.8" stroke-dasharray="0.7 2.1" style="stroke:#fff;stroke-opacity:0.4;stroke-linecap:butt"/>
<path d="M883.7,549.5 Q900,549.5 909,556.6" stroke-width="1.3" />
<rect x="887.4" y="618.6" width="105.6" height="51.4" stroke-width="1.8" />
<rect x="897.5" y="625" width="91" height="41" rx="11" ry="11" stroke-width="1.6"/>
<circle cx="903.5" cy="646" r="1.7" style="fill:#111" stroke-width="0.5"/>
<line x1="993.0" y1="607.7" x2="993.0" y2="670.0" stroke-width="1.6" />
<line x1="998.3" y1="607.7" x2="998.3" y2="670.0" stroke-width="1.6" />
<rect x="998.3" y="612.0" width="61.2" height="57.5" stroke-width="1.8" />
<line x1="998.3" y1="612.0" x2="1059.5" y2="669.5" stroke-width="1.3" />
<line x1="1059.5" y1="612.0" x2="998.3" y2="669.5" stroke-width="1.3" />
<circle cx="1029" cy="641" r="2.3" stroke-width="1.1" style="fill:#fff"/>
<line x1="1014.3" y1="581.4" x2="1045.0" y2="608.6" stroke-width="1.6" />
<path d="M1014.3,581.4 Q1004,592 1002,610" stroke-width="1.3" />
<text x="219.0" y="131.0" font-size="17.5" font-weight="bold" textLength="166.5" lengthAdjust="spacingAndGlyphs" >LIVING/ DINING ROOM</text>
<text x="213.3" y="150.5" font-size="15" font-weight="bold" textLength="99.5" lengthAdjust="spacingAndGlyphs" >21'-10&quot; X 15'-10&quot;</text>
<text x="213.7" y="168.0" font-size="15" font-weight="bold" textLength="87.5" lengthAdjust="spacingAndGlyphs" >( 6.6m x 4.8m )</text>
<text x="493.0" y="130.5" font-size="17.5" font-weight="bold" textLength="97.0" lengthAdjust="spacingAndGlyphs" >BEDROOM #3</text>
<text x="493.0" y="149.0" font-size="15" font-weight="bold" textLength="90.0" lengthAdjust="spacingAndGlyphs" >12'-10&quot; X 11'-4&quot;</text>
<text x="493.0" y="167.0" font-size="15" font-weight="bold" textLength="87.0" lengthAdjust="spacingAndGlyphs" >( 3.9m x 3.4m )</text>
<text x="711.5" y="130.0" font-size="17.5" font-weight="bold" textLength="97.0" lengthAdjust="spacingAndGlyphs" >BEDROOM #2</text>
<text x="711.5" y="148.0" font-size="15" font-weight="bold" textLength="84.0" lengthAdjust="spacingAndGlyphs" >14'-8&quot; X 10'-2&quot;</text>
<text x="711.5" y="166.0" font-size="15" font-weight="bold" textLength="87.0" lengthAdjust="spacingAndGlyphs" >( 4.4m x 3.0m )</text>
<text x="930.0" y="130.0" font-size="17.5" font-weight="bold" textLength="138.0" lengthAdjust="spacingAndGlyphs" >MASTER BEDROOM</text>
<text x="930.0" y="147.5" font-size="15" font-weight="bold" textLength="90.0" lengthAdjust="spacingAndGlyphs" >17'-10&quot; X 12'-0&quot;</text>
<text x="930.0" y="166.0" font-size="15" font-weight="bold" textLength="87.0" lengthAdjust="spacingAndGlyphs" >( 5.4m x 3.7m )</text>
<text x="445.8" y="386.0" font-size="17.5" font-weight="bold" textLength="61.0" lengthAdjust="spacingAndGlyphs" >GALLERY</text>
<text x="445.8" y="405.0" font-size="15" font-weight="bold" textLength="72.0" lengthAdjust="spacingAndGlyphs" >10'-0&quot; X 6'4&quot;</text>
<text x="445.8" y="423.0" font-size="15" font-weight="bold" textLength="87.0" lengthAdjust="spacingAndGlyphs" >( 3.0m x 1.9m )</text>
<text x="519.2" y="504.0" font-size="14.5" font-weight="bold" textLength="37.0" lengthAdjust="spacingAndGlyphs" >FOYER</text>
<text x="522.0" y="518.6" font-size="13" font-weight="bold" textLength="62.5" lengthAdjust="spacingAndGlyphs" >5'-11&quot; X 5'-3&quot;</text>
<text x="518.0" y="533.0" font-size="12.5" font-weight="bold" textLength="71.0" lengthAdjust="spacingAndGlyphs" >( 1.8m x 1.6m )</text>
<text x="167.0" y="546.5" font-size="13.5" font-weight="bold" textLength="62.0" lengthAdjust="spacingAndGlyphs" >BREAKFAST</text>
<text x="168.5" y="564.5" font-size="13.5" font-weight="bold" textLength="29.0" lengthAdjust="spacingAndGlyphs" >AREA</text>
<text x="171.0" y="578.6" font-size="10.5" font-weight="bold" textLength="56.0" lengthAdjust="spacingAndGlyphs" >7'-0&quot; X 6'-4&quot;</text>
<text x="171.5" y="598.0" font-size="14" font-weight="bold" textLength="89.0" lengthAdjust="spacingAndGlyphs" >( 2.1m x 1.9m )</text>
<text x="969.0" y="435.0" font-size="16" font-weight="bold" textLength="41.0" lengthAdjust="spacingAndGlyphs" >W.I.C.</text>
</g>
</svg>
</body>
</html>
